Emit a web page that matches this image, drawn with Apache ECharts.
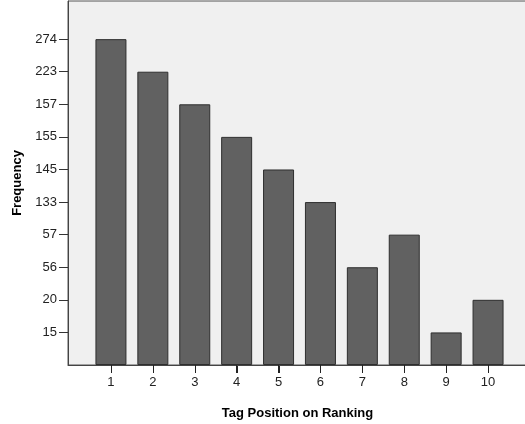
<!DOCTYPE html>
<html>
<head>
<meta charset="utf-8">
<script src="https://cdn.jsdelivr.net/npm/echarts@6/dist/echarts.min.js"></script>
<style>html,body{margin:0;padding:0;background:#fff;}#c{width:525px;height:424px;}</style>
</head>
<body>
<div id="c"></div>
<script>
var categories = ['1', '2', '3', '4', '5', '6', '7', '8', '9', '10'];
var frequencies = [274, 223, 157, 155, 145, 133, 56, 57, 15, 20];
// y-axis tick labels, bottom to top (evenly spaced ranks)
var tickLabels = [15, 20, 56, 57, 133, 145, 155, 157, 223, 274];

var ranks = tickLabels.map(function (v, i) { return i + 1; });
var barData = frequencies.map(function (f) { return tickLabels.indexOf(f) + 1; });

var chart = echarts.init(document.getElementById('c'), null, {renderer: 'canvas'});
var font = 'Liberation Sans, Arial, sans-serif';
var yMax = 11.17;
chart.setOption({
  animation: false,
  grid: [{
    left: 68, top: 1, right: -2, bottom: 59,
    outerBoundsMode: 'none', containLabel: false,
    show: true, backgroundColor: '#f0f0f0', borderColor: '#555', borderWidth: 1
  }, {
    left: 90, top: 1, right: 16, bottom: 59,
    outerBoundsMode: 'none', containLabel: false, show: false
  }],
  xAxis: [{
    gridIndex: 0, type: 'value', min: 0, max: 1,
    name: 'Tag Position on Ranking', nameLocation: 'middle', nameGap: 42,
    nameTextStyle: {fontFamily: font, fontSize: 13, fontWeight: 'bold', color: '#000'},
    axisLine: {show: true, onZero: false, lineStyle: {color: '#444', width: 1}},
    axisTick: {show: false}, axisLabel: {show: false}, splitLine: {show: false}
  }, {
    gridIndex: 1, type: 'category', data: categories, position: 'bottom',
    axisLine: {show: false},
    axisTick: {show: true, interval: 0, alignWithLabel: true, inside: false, length: 8, lineStyle: {color: '#222', width: 1}},
    axisLabel: {show: true, interval: 0, fontFamily: font, fontSize: 13, color: '#222', margin: 11},
    splitLine: {show: false}
  }],
  yAxis: [{
    gridIndex: 0, type: 'value', min: 0, max: yMax,
    name: 'Frequency', nameLocation: 'middle', nameGap: 44, nameRotate: 90,
    nameTextStyle: {fontFamily: font, fontSize: 13, fontWeight: 'bold', color: '#000'},
    axisLine: {show: true, onZero: false, lineStyle: {color: '#444', width: 1}},
    axisTick: {show: true, inside: false, length: 9, customValues: ranks, lineStyle: {color: '#333', width: 1}},
    axisLabel: {
      customValues: ranks, fontFamily: font, fontSize: 13, color: '#222', margin: 11,
      formatter: function (v) { var i = Math.round(v) - 1; return tickLabels[i] !== undefined ? String(tickLabels[i]) : ''; }
    },
    splitLine: {show: false}
  }, {
    gridIndex: 1, type: 'value', min: 0, max: yMax,
    axisLine: {show: false}, axisTick: {show: false}, axisLabel: {show: false},
    splitLine: {show: false}
  }],
  series: [{
    type: 'bar',
    xAxisIndex: 1, yAxisIndex: 1,
    data: barData,
    barWidth: 31,
    itemStyle: {color: '#616161', borderColor: '#2e2e2e', borderWidth: 1}
  }, {
    // x-axis tick marks placed through the category scale
    type: 'custom',
    xAxisIndex: 1, yAxisIndex: 1,
    clip: false, silent: true, z: 10,
    data: categories.map(function (c, i) { return [i, 0]; }),
    renderItem: function (params, api) {
      var p = api.coord([api.value(0), 0]);
      var x = Math.round(p[0]) + 0.5;
      return {
        type: 'line',
        shape: {x1: x, y1: p[1] + 1, x2: x, y2: p[1] + 8},
        style: {stroke: '#222', lineWidth: 1}
      };
    }
  }]
});
</script>
</body>
</html>
